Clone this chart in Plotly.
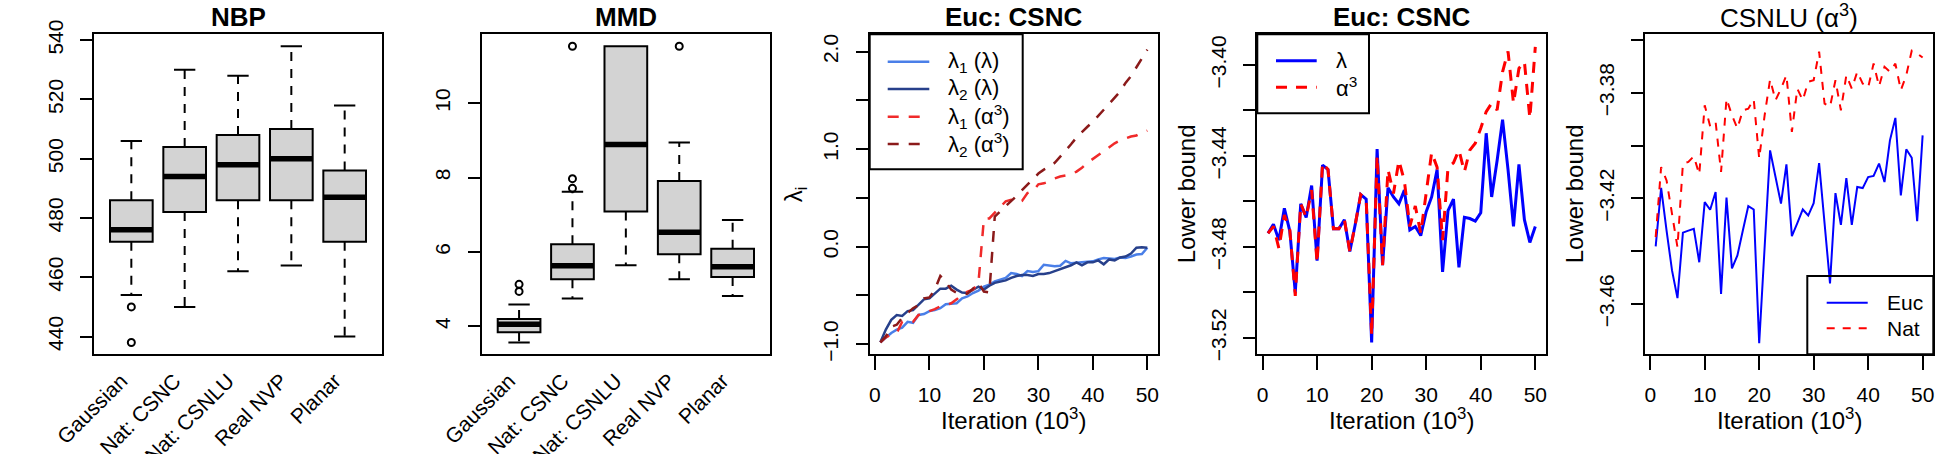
import plotly.graph_objects as go

W, H = 1937, 454
FONT = "Liberation Sans, Arial, sans-serif"

# ---- box plot summaries ----
methods = ["Gaussian", "Nat: CSNC", "Nat: CSNLU", "Real NVP", "Planar"]

nbp_lo = [454, 450, 462, 464, 440]
nbp_q1 = [472, 482, 486, 486, 472]
nbp_med = [476, 494, 498, 500, 487]
nbp_q3 = [486, 504, 508, 510, 496]
nbp_hi = [506, 530, 528, 538, 518]
nbp_out_pos = [1, 1]
nbp_out_val = [450, 438]

mmd_lo = [3.57, 4.75, 5.64, 5.27, 4.82]
mmd_q1 = [3.84, 5.27, 7.09, 5.94, 5.33]
mmd_med = [4.06, 5.63, 8.89, 6.53, 5.60]
mmd_q3 = [4.20, 6.21, 11.53, 7.91, 6.09]
mmd_hi = [4.59, 7.62, 11.53, 8.94, 6.86]
mmd_out_pos = [1, 1, 2, 2, 2, 4]
mmd_out_val = [4.94, 5.13, 7.71, 7.97, 11.53, 11.53]

# ---- traces over iterations (x 1000) ----
iters = list(range(1, 51))

lam1_lam = [-0.98, -0.93, -0.885, -0.85, -0.83, -0.77, -0.78, -0.70, -0.69, -0.66,
            -0.65, -0.63, -0.59, -0.585, -0.58, -0.53, -0.51, -0.475, -0.45, -0.41,
            -0.39, -0.355, -0.34, -0.32, -0.27, -0.28, -0.30, -0.25, -0.26, -0.25,
            -0.185, -0.19, -0.20, -0.195, -0.145, -0.17, -0.165, -0.16, -0.155, -0.15,
            -0.13, -0.115, -0.12, -0.125, -0.11, -0.115, -0.10, -0.08, -0.075, -0.01]
lam2_lam = [-0.98, -0.85, -0.75, -0.70, -0.71, -0.66, -0.65, -0.60, -0.54, -0.53,
            -0.475, -0.43, -0.43, -0.40, -0.44, -0.47, -0.475, -0.44, -0.41, -0.44,
            -0.40, -0.37, -0.355, -0.345, -0.32, -0.30, -0.29, -0.29, -0.30, -0.28,
            -0.28, -0.27, -0.25, -0.23, -0.21, -0.19, -0.16, -0.19, -0.16, -0.16,
            -0.14, -0.18, -0.13, -0.14, -0.11, -0.10, -0.07, -0.01, -0.005, -0.01]
lam1_a3 = [-0.98, -0.93, -0.90, -0.885, -0.77, -0.78, -0.77, -0.70, -0.69, -0.66,
           -0.64, -0.61, -0.60, -0.58, -0.54, -0.49, -0.46, -0.44, -0.37, 0.285,
           0.29, 0.345, 0.40, 0.465, 0.48, 0.46, 0.47, 0.55, 0.57, 0.64,
           0.65, 0.67, 0.70, 0.72, 0.73, 0.74, 0.77, 0.81, 0.86, 0.90,
           0.94, 0.98, 1.02, 1.06, 1.09, 1.11, 1.13, 1.14, 1.17, 1.19]
lam2_a3 = [-0.98, -0.92, -0.82, -0.80, -0.73, -0.68, -0.63, -0.60, -0.53, -0.52,
           -0.44, -0.30, -0.36, -0.44, -0.475, -0.49, -0.48, -0.43, -0.37, -0.46,
           -0.47, 0.31, 0.36, 0.42, 0.47, 0.52, 0.58, 0.64, 0.70, 0.75,
           0.79, 0.82, 0.86, 0.92, 0.98, 1.05, 1.12, 1.18, 1.23, 1.28,
           1.34, 1.40, 1.47, 1.53, 1.59, 1.68, 1.75, 1.84, 1.93, 2.02]

lb_lam = [-3.474, -3.470, -3.477, -3.463, -3.473, -3.500, -3.461, -3.467, -3.453, -3.486,
          -3.444, -3.446, -3.472, -3.472, -3.468, -3.482, -3.470, -3.457, -3.459, -3.522,
          -3.437, -3.488, -3.454, -3.458, -3.461, -3.455, -3.4725, -3.471, -3.475, -3.4645,
          -3.458, -3.446, -3.491, -3.464, -3.459, -3.489, -3.467, -3.4675, -3.4686, -3.465,
          -3.430, -3.458, -3.442, -3.424, -3.446, -3.471, -3.4437, -3.468, -3.478, -3.471]
lb_a3 = [-3.474, -3.471, -3.4806, -3.466, -3.4725, -3.5015, -3.461, -3.467, -3.455, -3.487,
         -3.443, -3.446, -3.472, -3.472, -3.468, -3.482, -3.470, -3.457, -3.459, -3.519,
         -3.440, -3.488, -3.446, -3.4565, -3.442, -3.451, -3.471, -3.462, -3.474, -3.4557,
         -3.4385, -3.445, -3.477, -3.445, -3.443, -3.4374, -3.447, -3.4374, -3.4344, -3.4278,
         -3.4205, -3.4168, -3.4198, -3.403, -3.394, -3.4168, -3.4015, -3.3985, -3.4234, -3.392]

csnlu_euc = [-3.4382, -3.416, -3.4322, -3.4473, -3.4578, -3.433, -3.4322, -3.4315, -3.4442, -3.4214,
             -3.4243, -3.4176, -3.4562, -3.4197, -3.4465, -3.4416, -3.4322, -3.4229, -3.4242, -3.4749,
             -3.4385, -3.4018, -3.4119, -3.422, -3.4071, -3.4343, -3.4294, -3.4242, -3.4265, -3.4218,
             -3.4066, -3.429, -3.4522, -3.418, -3.43, -3.4123, -3.43, -3.4157, -3.4161, -3.4119,
             -3.4115, -3.4068, -3.4138, -3.398, -3.3895, -3.4189, -3.4014, -3.4046, -3.4286, -3.3961]
csnlu_nat = [-3.4347, -3.4081, -3.4132, -3.4258, -3.4385, -3.4068, -3.4062, -3.404, -3.4109, -3.3847,
             -3.3927, -3.391, -3.41, -3.3822, -3.3885, -3.3935, -3.3866, -3.386, -3.3825, -3.4049,
             -3.3885, -3.3749, -3.3828, -3.3784, -3.3733, -3.3948, -3.3784, -3.3828, -3.3758, -3.3752,
             -3.3644, -3.3841, -3.3853, -3.3752, -3.3866, -3.3733, -3.3784, -3.372, -3.3765, -3.378,
             -3.3689, -3.3775, -3.3701, -3.372, -3.3689, -3.379, -3.3733, -3.364, -3.3651, -3.3666]

iter_ticks = [0, 10, 20, 30, 40, 50]
lam_major = [-1.0, 0.0, 1.0, 2.0]
lam_minor = [-0.5, 0.5, 1.5]
lb_major = [-3.52, -3.48, -3.44, -3.40]
lb_minor = [-3.50, -3.46, -3.42]
csnlu_major = [-3.46, -3.42, -3.38]
csnlu_minor = [-3.44, -3.40, -3.36]

# panel frames in pixels (left, right); all share the same top/bottom
frames = [(94, 382), (481.7, 770), (869.7, 1158), (1257.3, 1546), (1645, 1933.3)]
TOP, BOT = 34.3, 354.3

C_LAM1, C_LAM2, C_A31, C_A32 = "#4A7FE8", "#27408B", "#F02A2A", "#8B1A1A"
DASH3 = "11px,10px"
DASH4 = "11px,9px"
DASH5 = "8px,8px"


def fx(px):
    return px / W


def fy(py):
    return 1 - py / H


def minus(s):
    return s.replace("-", "\u2212")


fig = go.Figure()


def add_boxes(n, lo, q1, med, q3, hi, out_pos, out_val):
    xa, ya = f"x{n}", f"y{n}"
    pos = list(range(1, len(lo) + 1))
    wx, wy, sx, sy, mx, my = [], [], [], [], [], []
    for p, a, b, m, c, d in zip(pos, lo, q1, med, q3, hi):
        if d > c:
            wx += [p, p, None]; wy += [c, d, None]
            sx += [p - 0.2, p + 0.2, None]; sy += [d, d, None]
        if a < b:
            wx += [p, p, None]; wy += [b, a, None]
            sx += [p - 0.2, p + 0.2, None]; sy += [a, a, None]
        mx += [p - 0.4, p + 0.4, None]; my += [m, m, None]
    fig.add_trace(go.Scatter(x=wx, y=wy, mode="lines", xaxis=xa, yaxis=ya, showlegend=False,
                             line=dict(color="black", width=2, dash="9px,8px")))
    fig.add_trace(go.Box(x=pos, q1=q1, median=med, q3=q3, lowerfence=q1, upperfence=q3,
                         width=0.8, fillcolor="#D3D3D3", line=dict(color="black", width=2),
                         xaxis=xa, yaxis=ya, showlegend=False, boxpoints=False, hoverinfo="skip"))
    fig.add_trace(go.Scatter(x=mx, y=my, mode="lines", xaxis=xa, yaxis=ya, showlegend=False,
                             line=dict(color="black", width=5.5)))
    fig.add_trace(go.Scatter(x=sx, y=sy, mode="lines", xaxis=xa, yaxis=ya, showlegend=False,
                             line=dict(color="black", width=2)))
    fig.add_trace(go.Scatter(x=out_pos, y=out_val, mode="markers", xaxis=xa, yaxis=ya,
                             showlegend=False,
                             marker=dict(symbol="circle-open", size=7, color="black",
                                         line=dict(width=2, color="black"))))


add_boxes(1, nbp_lo, nbp_q1, nbp_med, nbp_q3, nbp_hi, nbp_out_pos, nbp_out_val)
add_boxes(2, mmd_lo, mmd_q1, mmd_med, mmd_q3, mmd_hi, mmd_out_pos, mmd_out_val)

# panel 3: eigenvalues
leg3 = [
    (lam1_lam, "λ<sub>1</sub> (λ)", C_LAM1, "solid", 2.5),
    (lam2_lam, "λ<sub>2</sub> (λ)", C_LAM2, "solid", 2.5),
    (lam1_a3, "λ<sub>1</sub> (α<sup>3</sup>)", C_A31, DASH3, 2.5),
    (lam2_a3, "λ<sub>2</sub> (α<sup>3</sup>)", C_A32, DASH3, 2.5),
]
for ys, name, col, dash, w in leg3:
    fig.add_trace(go.Scatter(x=iters, y=ys, mode="lines", name=name, xaxis="x3", yaxis="y3",
                             showlegend=False, line=dict(color=col, width=w, dash=dash)))

# panel 4: lower bound, Euc CSNC
leg4 = [(lb_lam, "λ", "#0000FF", "solid", 3), (lb_a3, "α<sup>3</sup>", "#FF0000", DASH4, 3)]
for ys, name, col, dash, w in leg4:
    fig.add_trace(go.Scatter(x=iters, y=ys, mode="lines", name=name, xaxis="x4", yaxis="y4",
                             showlegend=False, line=dict(color=col, width=w, dash=dash)))

# panel 5: lower bound, CSNLU
leg5 = [(csnlu_euc, "Euc", "#0000FF", "solid", 2), (csnlu_nat, "Nat", "#FF0000", DASH5, 2)]
for ys, name, col, dash, w in leg5:
    fig.add_trace(go.Scatter(x=iters, y=ys, mode="lines", name=name, xaxis="x5", yaxis="y5",
                             showlegend=False, line=dict(color=col, width=w, dash=dash)))

tickfont = dict(family=FONT, size=21, color="black")
common = dict(showline=True, mirror=True, linecolor="black", linewidth=2, showgrid=False,
              zeroline=False, tickfont=tickfont, ticks="outside", tickwidth=2,
              tickcolor="black", automargin=False)
minor_style = dict(ticks="outside", ticklen=12, tickwidth=2, tickcolor="black", showgrid=False)

layout = dict(width=W, height=H, margin=dict(l=0, r=0, t=0, b=0, autoexpand=False),
              paper_bgcolor="white", plot_bgcolor="white", font=dict(family=FONT, color="black"))

yconf = [
    dict(range=[434, 542], tickvals=[440, 460, 480, 500, 520, 540]),
    dict(range=[3.25, 11.85], tickvals=[4, 6, 8, 10]),
    dict(range=[-1.103, 2.178], tickvals=lam_major,
         ticktext=[minus(f"{v:.1f}") for v in lam_major],
         minor=dict(minor_style, tickvals=lam_minor)),
    dict(range=[-3.5272, -3.3865], tickvals=lb_major,
         ticktext=[minus(f"{v:.2f}") for v in lb_major],
         minor=dict(minor_style, tickvals=lb_minor)),
    dict(range=[-3.4791, -3.3578], tickvals=csnlu_major,
         ticktext=[minus(f"{v:.2f}") for v in csnlu_major],
         minor=dict(minor_style, tickvals=csnlu_minor)),
]

for n, (l, r) in enumerate(frames, start=1):
    key = "" if n == 1 else str(n)
    xd = dict(common, domain=[fx(l), fx(r)], anchor=f"y{n}")
    if n <= 2:
        xd.update(range=[0.3, 5.7], tickvals=list(range(1, 6)), ticktext=methods,
                  tickangle=-45, ticks="", ticklabelstandoff=4, ticklabelshift=-10)
    else:
        xd.update(range=[-0.96, 51.96], tickvals=iter_ticks, ticklen=14, ticklabelstandoff=6)
    yd = dict(common, domain=[fy(BOT), fy(TOP)], anchor=f"x{n}", tickangle=-90,
              ticklen=12, ticklabelstandoff=9)
    yd.update(yconf[n - 1])
    layout[f"xaxis{key}"] = xd
    layout[f"yaxis{key}"] = yd

# hand-drawn R style legends (transparent box, black frame)
shapes, ann = [], []


def add_legend(box, entries, rows, line_x, text_x, size):
    x0, x1, y0, y1 = box
    shapes.append(dict(type="rect", xref="paper", yref="paper", x0=fx(x0), x1=fx(x1),
                       y0=fy(y1), y1=fy(y0), line=dict(color="black", width=2),
                       fillcolor="rgba(0,0,0,0)"))
    for (ys, name, col, dash, w), ry in zip(entries, rows):
        shapes.append(dict(type="line", xref="paper", yref="paper", x0=fx(line_x[0]),
                           x1=fx(line_x[1]), y0=fy(ry), y1=fy(ry),
                           line=dict(color=col, width=w, dash=dash)))
        ann.append(dict(text=name, x=fx(text_x), y=fy(ry), xref="paper", yref="paper",
                        xanchor="left", yanchor="middle", showarrow=False,
                        font=dict(family=FONT, size=size, color="black")))


add_legend((869.7, 1022.7, TOP, 169.3), leg3, [61.7, 89, 116.7, 144], (887.7, 929.3), 946, 22)
add_legend((1257.3, 1369, TOP, 113.3), leg4, [60.7, 87.3], (1276, 1316.7), 1334, 22)
add_legend((1807.3, 1933.3, 276, BOT), leg5, [302.7, 328.3], (1826.7, 1867.7), 1885, 21)

titles = ["<b>NBP</b>", "<b>MMD</b>", "<b>Euc: CSNC</b>", "<b>Euc: CSNC</b>",
          "CSNLU (α<sup>3</sup>)"]
for (l, r), t in zip(frames, titles):
    ann.append(dict(text=t, x=fx((l + r) / 2), y=fy(17), xref="paper", yref="paper",
                    xanchor="center", yanchor="middle", showarrow=False,
                    font=dict(family=FONT, size=26, color="black")))
for (l, r) in frames[2:]:
    ann.append(dict(text="Iteration (10<sup>3</sup>)", x=fx((l + r) / 2), y=fy(419),
                    xref="paper", yref="paper", xanchor="center", yanchor="middle",
                    showarrow=False, font=dict(family=FONT, size=24, color="black")))
for xp, t in [(795, "λ<sub>i</sub>"), (1186, "Lower bound"), (1574, "Lower bound")]:
    ann.append(dict(text=t, x=fx(xp), y=fy((TOP + BOT) / 2), xref="paper", yref="paper",
                    xanchor="center", yanchor="middle", textangle=-90, showarrow=False,
                    font=dict(family=FONT, size=24, color="black")))
layout["annotations"] = ann
layout["shapes"] = shapes

fig.update_layout(**layout)
# drop the default page margin so the figure sits at the window's top-left corner
fig.write_html("out.html", config={"displayModeBar": False},
               post_script="document.body.style.margin='0';document.body.style.overflow='hidden';")
